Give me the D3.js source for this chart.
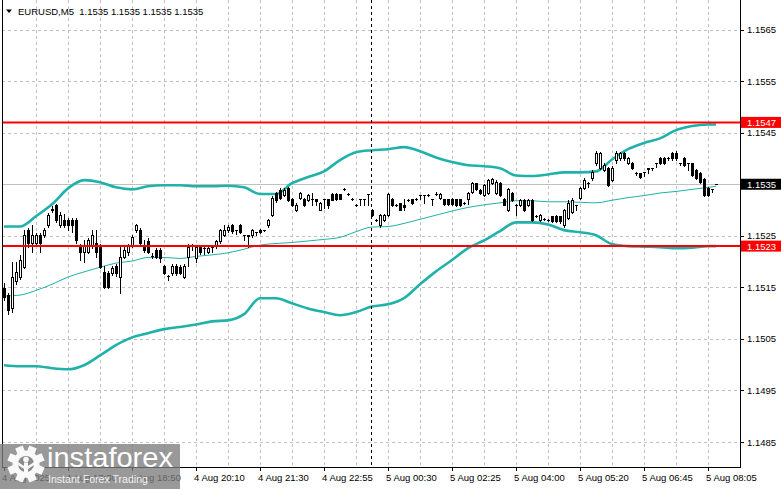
<!DOCTYPE html>
<html>
<head>
<meta charset="utf-8">
<title>EURUSD,M5</title>
<script src="https://d3js.org/d3.v7.min.js"></script>
<style>
  body { margin: 0; background: #ffffff; }
  svg text { font-family: "Liberation Sans", Arial, sans-serif; }
</style>
</head>
<body>
<div id="chart"></div>
<script>
// ---- data ----
const symbolTitle = "EURUSD,M5  1.1535 1.1535 1.1535 1.1535";

const opens = [
  1.15148, 1.15135, 1.15109, 1.15162, 1.15170, 1.15189, 1.15261, 1.15237, 1.15237, 1.15251,
  1.15251, 1.15270, 1.15302, 1.15309, 1.15270, 1.15280, 1.15280, 1.15280, 1.15280, 1.15232,
  1.15218, 1.15218, 1.15232, 1.15237, 1.15228, 1.15179, 1.15177, 1.15177, 1.15191, 1.15170,
  1.15208, 1.15218, 1.15232, 1.15261, 1.15261, 1.15230, 1.15239, 1.15210, 1.15222, 1.15222,
  1.15191, 1.15172, 1.15177, 1.15191, 1.15189, 1.15170, 1.15208, 1.15230, 1.15206, 1.15228,
  1.15226, 1.15218, 1.15228, 1.15230, 1.15239, 1.15251, 1.15261, 1.15270, 1.15261, 1.15270,
  1.15251, 1.15251, 1.15251, 1.15257, 1.15261, 1.15261, 1.15270, 1.15290, 1.15333, 1.15338,
  1.15329, 1.15342, 1.15321, 1.15300, 1.15323, 1.15321, 1.15319, 1.15321, 1.15321, 1.15300,
  1.15321, 1.15321, 1.15331, 1.15331, 1.15331, 1.15340, 1.15331, 1.15321, 1.15309, 1.15321,
  1.15321, 1.15331, 1.15300, 1.15280, 1.15270, 1.15280, 1.15290, 1.15321, 1.15309, 1.15313,
  1.15309, 1.15319, 1.15321, 1.15321, 1.15329, 1.15329, 1.15329, 1.15321, 1.15331, 1.15323,
  1.15321, 1.15321, 1.15321, 1.15321, 1.15321, 1.15313, 1.15321, 1.15334, 1.15352, 1.15338,
  1.15329, 1.15333, 1.15352, 1.15333, 1.15352, 1.15321, 1.15300, 1.15333, 1.15309, 1.15309,
  1.15319, 1.15309, 1.15319, 1.15288, 1.15280, 1.15282, 1.15280, 1.15288, 1.15288, 1.15288,
  1.15270, 1.15284, 1.15296, 1.15309, 1.15323, 1.15342, 1.15352, 1.15362, 1.15391, 1.15381,
  1.15377, 1.15381, 1.15358, 1.15397, 1.15400, 1.15410, 1.15391, 1.15391, 1.15371, 1.15371,
  1.15373, 1.15381, 1.15381, 1.15391, 1.15400, 1.15400, 1.15400, 1.15410, 1.15410, 1.15391,
  1.15400, 1.15391, 1.15391, 1.15377, 1.15371, 1.15360, 1.15342, 1.15340, 1.15350
];
const highs = [
  1.15158, 1.15140, 1.15199, 1.15199, 1.15212, 1.15261, 1.15265, 1.15270, 1.15255, 1.15255,
  1.15265, 1.15294, 1.15307, 1.15311, 1.15296, 1.15292, 1.15284, 1.15284, 1.15284, 1.15235,
  1.15241, 1.15245, 1.15261, 1.15261, 1.15234, 1.15191, 1.15181, 1.15191, 1.15195, 1.15232,
  1.15232, 1.15234, 1.15251, 1.15272, 1.15265, 1.15241, 1.15245, 1.15216, 1.15226, 1.15226,
  1.15193, 1.15173, 1.15195, 1.15195, 1.15193, 1.15195, 1.15234, 1.15234, 1.15232, 1.15230,
  1.15228, 1.15228, 1.15230, 1.15241, 1.15263, 1.15270, 1.15270, 1.15272, 1.15261, 1.15272,
  1.15251, 1.15251, 1.15263, 1.15257, 1.15263, 1.15261, 1.15282, 1.15327, 1.15334, 1.15342,
  1.15342, 1.15344, 1.15323, 1.15313, 1.15334, 1.15323, 1.15331, 1.15333, 1.15321, 1.15315,
  1.15321, 1.15321, 1.15333, 1.15333, 1.15331, 1.15342, 1.15333, 1.15323, 1.15311, 1.15321,
  1.15321, 1.15331, 1.15302, 1.15282, 1.15292, 1.15292, 1.15333, 1.15323, 1.15311, 1.15313,
  1.15321, 1.15321, 1.15321, 1.15323, 1.15329, 1.15329, 1.15331, 1.15321, 1.15334, 1.15333,
  1.15321, 1.15321, 1.15323, 1.15321, 1.15321, 1.15315, 1.15334, 1.15354, 1.15352, 1.15340,
  1.15350, 1.15360, 1.15362, 1.15358, 1.15354, 1.15323, 1.15342, 1.15334, 1.15311, 1.15321,
  1.15321, 1.15321, 1.15321, 1.15290, 1.15292, 1.15284, 1.15282, 1.15288, 1.15290, 1.15288,
  1.15302, 1.15319, 1.15323, 1.15309, 1.15344, 1.15362, 1.15354, 1.15377, 1.15414, 1.15412,
  1.15391, 1.15383, 1.15385, 1.15414, 1.15412, 1.15412, 1.15402, 1.15393, 1.15373, 1.15371,
  1.15373, 1.15381, 1.15381, 1.15391, 1.15402, 1.15402, 1.15402, 1.15412, 1.15414, 1.15391,
  1.15402, 1.15391, 1.15391, 1.15379, 1.15373, 1.15362, 1.15344, 1.15340, 1.15350
];
const lows = [
  1.15125, 1.15098, 1.15102, 1.15156, 1.15166, 1.15187, 1.15228, 1.15218, 1.15232, 1.15218,
  1.15247, 1.15267, 1.15296, 1.15276, 1.15267, 1.15267, 1.15261, 1.15257, 1.15237, 1.15203,
  1.15199, 1.15216, 1.15226, 1.15208, 1.15187, 1.15148, 1.15148, 1.15173, 1.15172, 1.15140,
  1.15206, 1.15212, 1.15228, 1.15257, 1.15234, 1.15218, 1.15216, 1.15206, 1.15206, 1.15199,
  1.15175, 1.15164, 1.15173, 1.15173, 1.15175, 1.15168, 1.15191, 1.15222, 1.15199, 1.15214,
  1.15214, 1.15216, 1.15218, 1.15226, 1.15237, 1.15249, 1.15257, 1.15255, 1.15253, 1.15255,
  1.15241, 1.15228, 1.15247, 1.15251, 1.15255, 1.15259, 1.15268, 1.15288, 1.15315, 1.15321,
  1.15327, 1.15317, 1.15307, 1.15298, 1.15321, 1.15307, 1.15317, 1.15309, 1.15309, 1.15300,
  1.15303, 1.15303, 1.15319, 1.15319, 1.15321, 1.15338, 1.15329, 1.15319, 1.15307, 1.15309,
  1.15309, 1.15309, 1.15288, 1.15278, 1.15268, 1.15278, 1.15288, 1.15307, 1.15307, 1.15300,
  1.15300, 1.15317, 1.15311, 1.15319, 1.15321, 1.15313, 1.15327, 1.15309, 1.15329, 1.15321,
  1.15309, 1.15309, 1.15309, 1.15307, 1.15307, 1.15311, 1.15311, 1.15333, 1.15338, 1.15331,
  1.15327, 1.15331, 1.15350, 1.15331, 1.15327, 1.15309, 1.15298, 1.15317, 1.15290, 1.15307,
  1.15298, 1.15307, 1.15278, 1.15286, 1.15278, 1.15280, 1.15278, 1.15276, 1.15276, 1.15274,
  1.15268, 1.15282, 1.15294, 1.15300, 1.15321, 1.15340, 1.15344, 1.15358, 1.15387, 1.15379,
  1.15375, 1.15346, 1.15356, 1.15391, 1.15398, 1.15397, 1.15389, 1.15379, 1.15367, 1.15362,
  1.15366, 1.15371, 1.15377, 1.15383, 1.15389, 1.15389, 1.15398, 1.15398, 1.15398, 1.15387,
  1.15385, 1.15377, 1.15366, 1.15360, 1.15352, 1.15327, 1.15327, 1.15334, 1.15350
];
const closes = [
  1.15131, 1.15106, 1.15170, 1.15179, 1.15203, 1.15251, 1.15237, 1.15251, 1.15251, 1.15237,
  1.15261, 1.15290, 1.15300, 1.15280, 1.15290, 1.15270, 1.15270, 1.15270, 1.15241, 1.15218,
  1.15232, 1.15241, 1.15251, 1.15218, 1.15189, 1.15150, 1.15150, 1.15187, 1.15177, 1.15208,
  1.15222, 1.15230, 1.15247, 1.15270, 1.15237, 1.15222, 1.15218, 1.15210, 1.15208, 1.15206,
  1.15177, 1.15172, 1.15191, 1.15177, 1.15177, 1.15191, 1.15228, 1.15230, 1.15228, 1.15218,
  1.15226, 1.15226, 1.15228, 1.15239, 1.15261, 1.15261, 1.15267, 1.15259, 1.15261, 1.15257,
  1.15251, 1.15249, 1.15261, 1.15257, 1.15257, 1.15261, 1.15280, 1.15323, 1.15319, 1.15323,
  1.15338, 1.15319, 1.15309, 1.15309, 1.15333, 1.15309, 1.15329, 1.15321, 1.15317, 1.15313,
  1.15321, 1.15309, 1.15319, 1.15321, 1.15321, 1.15340, 1.15331, 1.15321, 1.15309, 1.15321,
  1.15321, 1.15331, 1.15290, 1.15280, 1.15290, 1.15290, 1.15331, 1.15309, 1.15309, 1.15300,
  1.15305, 1.15319, 1.15313, 1.15321, 1.15329, 1.15329, 1.15329, 1.15321, 1.15331, 1.15331,
  1.15311, 1.15311, 1.15311, 1.15309, 1.15309, 1.15313, 1.15333, 1.15352, 1.15340, 1.15333,
  1.15348, 1.15358, 1.15360, 1.15354, 1.15329, 1.15309, 1.15340, 1.15319, 1.15309, 1.15319,
  1.15300, 1.15319, 1.15280, 1.15288, 1.15290, 1.15282, 1.15280, 1.15278, 1.15278, 1.15278,
  1.15300, 1.15313, 1.15319, 1.15309, 1.15342, 1.15358, 1.15352, 1.15373, 1.15410, 1.15410,
  1.15387, 1.15348, 1.15381, 1.15410, 1.15410, 1.15400, 1.15400, 1.15381, 1.15371, 1.15364,
  1.15373, 1.15379, 1.15381, 1.15391, 1.15391, 1.15391, 1.15400, 1.15400, 1.15400, 1.15391,
  1.15387, 1.15391, 1.15367, 1.15362, 1.15354, 1.15329, 1.15329, 1.15340, 1.15350
];

// Bollinger bands, read every 4 bars
const bandIdx = [0, 4, 8, 12, 16, 20, 24, 28, 32, 36, 40, 44, 48, 52, 56, 60, 64, 68, 72, 76, 80, 84, 88,
  92, 96, 100, 104, 108, 112, 116, 120, 124, 128, 132, 136, 140, 144, 148, 152, 156, 160, 164, 168, 172, 176, 178];
const upperBand = [1.15268, 1.15268, 1.15288, 1.15311, 1.15342, 1.15358, 1.15354, 1.15344, 1.15340, 1.15346,
  1.15348, 1.15348, 1.15346, 1.15346, 1.15347, 1.15344, 1.15331, 1.15331, 1.15352, 1.15364, 1.15375, 1.15397,
  1.15412, 1.15416, 1.15418, 1.15422, 1.15414, 1.15402, 1.15393, 1.15387, 1.15385, 1.15381, 1.15367, 1.15366,
  1.15369, 1.15373, 1.15373, 1.15375, 1.15398, 1.15418, 1.15430, 1.15439, 1.15455, 1.15463, 1.15466, 1.15466];
const middleBand = [1.15133, 1.15135, 1.15144, 1.15156, 1.15170, 1.15180, 1.15189, 1.15197, 1.15201, 1.15208,
  1.15208, 1.15206, 1.15210, 1.15213, 1.15217, 1.15224, 1.15232, 1.15235, 1.15237, 1.15240, 1.15243, 1.15247,
  1.15258, 1.15267, 1.15268, 1.15274, 1.15282, 1.15290, 1.15298, 1.15305, 1.15310, 1.15314, 1.15318, 1.15318,
  1.15316, 1.15316, 1.15315, 1.15314, 1.15319, 1.15324, 1.15328, 1.15333, 1.15336, 1.15340, 1.15344, 1.15346];
const lowerBand = [1.14999, 1.14997, 1.14997, 1.14993, 1.14991, 1.14999, 1.15018, 1.15038, 1.15053, 1.15061,
  1.15069, 1.15073, 1.15078, 1.15084, 1.15086, 1.15098, 1.15129, 1.15129, 1.15119, 1.15109, 1.15102, 1.15096,
  1.15102, 1.15113, 1.15117, 1.15129, 1.15156, 1.15181, 1.15203, 1.15226, 1.15241, 1.15259, 1.15276, 1.15276,
  1.15272, 1.15261, 1.15257, 1.15251, 1.15234, 1.15230, 1.15229, 1.15228, 1.15226, 1.15227, 1.15230, 1.15230];

const priceTicks = [1.1565, 1.1555, 1.1545, 1.1535, 1.1525, 1.1515, 1.1505, 1.1495, 1.1485];
const timeIdx = [0, 16, 32, 48, 64, 80, 96, 112, 128, 144, 160, 176];
const timeLabels = ["4 Aug 2025", "4 Aug 17:30", "4 Aug 18:50", "4 Aug 20:10", "4 Aug 21:30", "4 Aug 22:55",
  "5 Aug 00:30", "5 Aug 02:25", "5 Aug 04:00", "5 Aug 05:20", "5 Aug 06:45", "5 Aug 08:05"];
const levelPrices = [1.1547, 1.1523];
const bidPrice = 1.1535;
const separatorIdx = 91.75;

// ---- layout ----
const W = 781, H = 489;
const frame = {left: 2, right: 740, top: 0, bottom: 467};
const nBars = opens.length;

const svg = d3.select("#chart").append("svg")
  .attr("width", W).attr("height", H)
  .style("display", "block");

const xScale = d3.scaleLinear().domain([0, nBars - 1]).range([4, 4 + 4 * (nBars - 1)]);
const yScale = d3.scaleLinear().domain([1.1485, 1.1565]).range([442, 29.6]);
const py = p => Math.round(yScale(p));

// grid
const grid = svg.append("g").attr("shape-rendering", "crispEdges")
  .attr("stroke", "#c0c0c0").attr("stroke-dasharray", "3,3");
grid.selectAll(".vg").data(d3.range(8, nBars, 8)).join("line")
  .attr("x1", d => Math.round(xScale(d)) + 0.5).attr("x2", d => Math.round(xScale(d)) + 0.5)
  .attr("y1", frame.top).attr("y2", frame.bottom);
grid.selectAll(".hg").data(priceTicks).join("line")
  .attr("x1", frame.left).attr("x2", frame.right)
  .attr("y1", d => py(d) + 0.5).attr("y2", d => py(d) + 0.5);

// bid line
svg.append("line")
  .attr("x1", frame.left).attr("x2", frame.right)
  .attr("y1", py(bidPrice) + 0.5).attr("y2", py(bidPrice) + 0.5)
  .attr("stroke", "#c0c0c0").attr("shape-rendering", "crispEdges");

// Bollinger bands
const bandLine = values => d3.line()
  .x((d, k) => xScale(bandIdx[k]))
  .y(d => yScale(d))
  .curve(d3.curveMonotoneX)(values);

svg.append("path").attr("d", bandLine(upperBand))
  .attr("fill", "none").attr("stroke", "#20b2aa").attr("stroke-width", 2.6);
svg.append("path").attr("d", bandLine(lowerBand))
  .attr("fill", "none").attr("stroke", "#20b2aa").attr("stroke-width", 2.6);
svg.append("path").attr("d", bandLine(middleBand))
  .attr("fill", "none").attr("stroke", "#20b2aa").attr("stroke-width", 1);

// candles
const bars = d3.range(nBars).map(i => ({i: i, o: opens[i], h: highs[i], l: lows[i], c: closes[i]}));
const cg = svg.append("g").attr("shape-rendering", "crispEdges");

cg.selectAll(".wick").data(bars).join("line")
  .attr("x1", d => Math.round(xScale(d.i)) + 0.5).attr("x2", d => Math.round(xScale(d.i)) + 0.5)
  .attr("y1", d => py(d.h)).attr("y2", d => py(d.l) + 1)
  .attr("stroke", "#000");

cg.selectAll(".bull").data(bars.filter(d => d.c > d.o)).join("rect")
  .attr("x", d => Math.round(xScale(d.i)) - 0.5)
  .attr("y", d => py(d.c) + 0.5)
  .attr("width", 2)
  .attr("height", d => Math.max(py(d.o) - py(d.c), 1))
  .attr("fill", "#fff").attr("stroke", "#000");

cg.selectAll(".bear").data(bars.filter(d => d.c < d.o)).join("rect")
  .attr("x", d => Math.round(xScale(d.i)) - 1)
  .attr("y", d => py(d.o))
  .attr("width", 3)
  .attr("height", d => Math.max(py(d.c) - py(d.o) + 1, 1))
  .attr("fill", "#000");

cg.selectAll(".doji").data(bars.filter(d => d.c === d.o)).join("line")
  .attr("x1", d => Math.round(xScale(d.i)) - 1).attr("x2", d => Math.round(xScale(d.i)) + 2)
  .attr("y1", d => py(d.o) + 0.5).attr("y2", d => py(d.o) + 0.5)
  .attr("stroke", "#000");

// horizontal levels
svg.selectAll(".level").data(levelPrices).join("line")
  .attr("x1", frame.left).attr("x2", frame.right)
  .attr("y1", d => yScale(d)).attr("y2", d => yScale(d))
  .attr("stroke", "#ff0000").attr("stroke-width", 2);

// day separator
svg.append("line")
  .attr("x1", Math.round(xScale(separatorIdx)) + 0.5).attr("x2", Math.round(xScale(separatorIdx)) + 0.5)
  .attr("y1", frame.top).attr("y2", frame.bottom)
  .attr("stroke", "#000").attr("stroke-dasharray", "3,3").attr("shape-rendering", "crispEdges");

// frame
svg.append("path")
  .attr("d", `M${frame.left + 0.5},${frame.top}V${frame.bottom + 0.5}H${frame.right + 0.5}V${frame.top}`)
  .attr("fill", "none").attr("stroke", "#000").attr("shape-rendering", "crispEdges");

// price axis
const pa = svg.append("g");
pa.selectAll("line").data(priceTicks).join("line")
  .attr("x1", frame.right).attr("x2", frame.right + 4)
  .attr("y1", d => py(d) + 0.5).attr("y2", d => py(d) + 0.5)
  .attr("stroke", "#000").attr("shape-rendering", "crispEdges");
pa.selectAll("text").data(priceTicks).join("text")
  .attr("x", 747).attr("y", d => yScale(d) + 3.5)
  .attr("font-size", "9.5px").attr("fill", "#000")
  .text(d => d.toFixed(4));

// price boxes
const boxes = [
  {p: levelPrices[0], fill: "#ff0000"},
  {p: bidPrice, fill: "#000000"},
  {p: levelPrices[1], fill: "#ff0000"}
];
const bx = svg.selectAll(".pbox").data(boxes).join("g");
bx.append("rect")
  .attr("x", 741).attr("y", d => yScale(d.p) - 5.5)
  .attr("width", 40).attr("height", 11)
  .attr("fill", d => d.fill);
bx.append("text")
  .attr("x", 747).attr("y", d => yScale(d.p) + 3.5)
  .attr("font-size", "9.5px").attr("fill", "#fff")
  .text(d => d.p.toFixed(4));

// time axis
const ta = svg.append("g");
ta.selectAll("line").data(timeIdx).join("line")
  .attr("x1", d => Math.round(xScale(d)) + 0.5).attr("x2", d => Math.round(xScale(d)) + 0.5)
  .attr("y1", frame.bottom).attr("y2", frame.bottom + 4)
  .attr("stroke", "#000").attr("shape-rendering", "crispEdges");
ta.selectAll("text").data(timeIdx).join("text")
  .attr("x", d => xScale(d) - 2).attr("y", 481)
  .attr("font-size", "9.5px").attr("fill", "#000")
  .text((d, k) => timeLabels[k]);

// title
svg.append("path").attr("d", "M6,9.5H12L9,13Z").attr("fill", "#000");
svg.append("text").attr("x", 18).attr("y", 14.5)
  .attr("font-size", "9.5px").attr("fill", "#000")
  .attr("xml:space", "preserve").style("white-space", "pre")
  .text(symbolTitle);

// watermark (semi-transparent, labels show through as in the picture)
const logo = svg.append("g");
logo.append("rect").attr("x", 0).attr("y", 444).attr("width", 180).attr("height", 45)
  .attr("fill", "#7c7c7c").attr("opacity", 0.78);
const gear = logo.append("g").attr("transform", "translate(26,464)").attr("fill", "#fff").attr("opacity", 0.95);
gear.selectAll("rect").data(d3.range(8)).join("rect")
  .attr("x", -4).attr("y", -18.5).attr("width", 8).attr("height", 9)
  .attr("transform", d => `rotate(${d * 45 + 22.5})`);
gear.append("circle").attr("r", 13.5);
gear.append("circle").attr("r", 8).attr("fill", "#8a8a8a");
gear.append("circle").attr("cy", -4.5).attr("r", 2.8);
gear.append("rect").attr("x", -2).attr("y", -1.5).attr("width", 4).attr("height", 15);
gear.append("path").attr("d", "M-8,-2 L-2,2 L-2,5 L-8,1Z M8,-2 L2,2 L2,5 L8,1Z");
logo.append("text").attr("x", 47).attr("y", 467)
  .attr("font-family", "Roboto, 'Liberation Sans', sans-serif").attr("font-weight", 300)
  .attr("font-size", "28px").attr("fill", "#fff")
  .attr("textLength", 126).attr("lengthAdjust", "spacingAndGlyphs")
  .text("instaforex");
logo.append("text").attr("x", 48).attr("y", 483)
  .attr("font-size", "11.5px").attr("fill", "#f0f0f0")
  .attr("textLength", 100).attr("lengthAdjust", "spacingAndGlyphs")
  .text("Instant Forex Trading");
</script>
</body>
</html>
